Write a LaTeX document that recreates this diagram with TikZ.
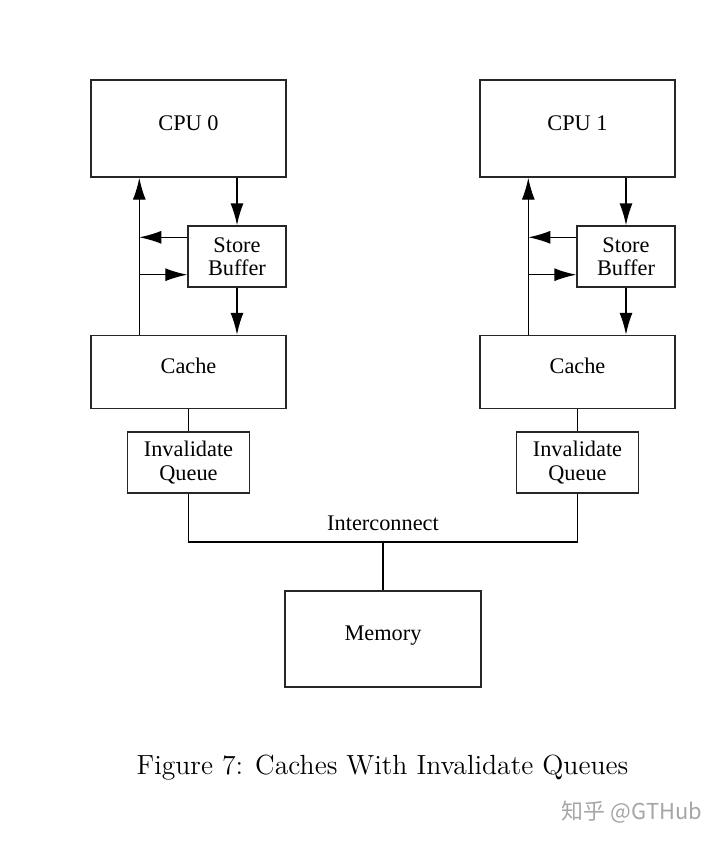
\documentclass[tikz,border=0pt]{standalone}
\usepackage{fontspec}
\newfontfamily\timesfont{Liberation Serif}
\newfontfamily\cjkfont{Noto Sans CJK SC}
\usepackage{tikz}
\usetikzlibrary{arrows.meta,calc,positioning}

\begin{document}
\begin{tikzpicture}[x=0.5bp,y=-0.5bp,line width=.7pt,>={Latex[length=11bp,width=6.5bp]},
 every node/.style={inner sep=1pt,font=\timesfont\fontsize{11.2}{11.8}\selectfont},
 unit/.style={draw=black!85,align=center},
 oneline/.style={text height=7.5bp,text depth=6bp},
 cpubox/.style={unit,oneline,minimum width=97.5bp,minimum height=48.5bp},
 sbbox/.style={unit,minimum width=49bp,minimum height=30.5bp},
 cachebox/.style={unit,oneline,minimum width=97.5bp,minimum height=36.5bp},
 iqbox/.style={unit,minimum width=61bp,minimum height=30.5bp}]
\useasboundingbox[fill=white] (0,0) rectangle (720,842);
% two CPUs, each with store buffer, cache, invalidate queue
\foreach \i/\cx in {0/188.5,1/577.5}{
 \node[cpubox] (cpu\i) at (\cx,128.5) {CPU \i};
 \node[sbbox] (sb\i) at (\cx+48.5,256.5) {Store\\Buffer};
 \node[cachebox] (cache\i) at (\cx,372) {Cache};
 \node[iqbox] (iq\i) at (\cx,462.5) {Invalidate\\Queue};
 \coordinate (bus\i) at ([xshift=24.5bp]cache\i.north west);
 \coordinate (sbout\i) at ([yshift=-6bp]sb\i.north west);
 \coordinate (sbin\i) at ([yshift=6.5bp]sb\i.south west);
 \draw[->] (sb\i.north |- cpu\i.south) -- (sb\i.north);
 \draw[->] (sb\i.south) -- (sb\i.south |- cache\i.north);
 \draw[->] (bus\i) -- (bus\i |- cpu\i.south);
 \draw[->] (sbout\i) -- (sbout\i -| bus\i);
 \draw[->] (sbin\i -| bus\i) -- (sbin\i);
 \draw (cache\i.south) -- (iq\i.north);
}
\node[unit,oneline,minimum width=98bp,minimum height=48bp] (mem) at (383,639) {Memory};
\coordinate (icon) at (383,542);
\node (iclabel) at (383,523) {Interconnect};
\draw (iq0.south) |- (icon) -| (iq1.south);
\draw (icon) -- (mem.north);
% caption and watermark
\node[font=\fontsize{13.9}{16}\selectfont] (caption) at (382.5,768) {Figure 7: Caches With Invalidate Queues};
\node[font=\cjkfont\fontsize{11}{13}\selectfont,text=black!35] (mark) at (632,812) {知乎 @GTHub};
\end{tikzpicture}
\end{document}
